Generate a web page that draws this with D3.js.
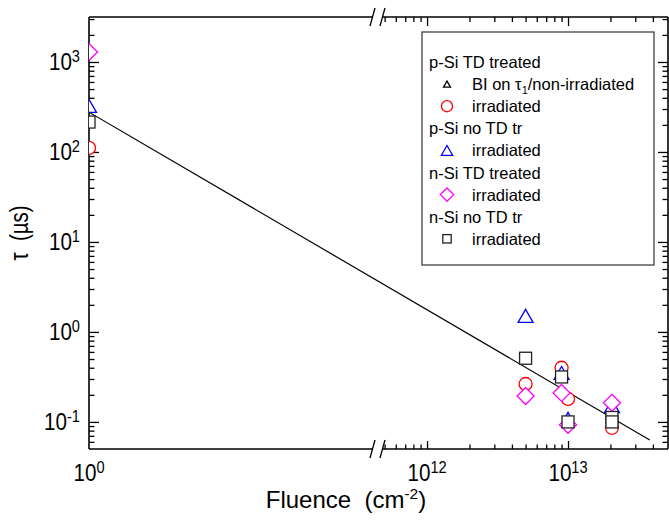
<!DOCTYPE html>
<html>
<head>
<meta charset="utf-8">
<script src="https://cdn.jsdelivr.net/npm/d3@7"></script>
<style>
  body { margin: 0; background: #fff; }
  text { font-family: "Liberation Sans", Arial, sans-serif; fill: #000; }
</style>
</head>
<body>
<svg id="chart" width="669" height="520"></svg>
<script>
// Daten: [Fluenz (cm^-2), tau (µs)], Fluenz 0 wird bei 10^0 gezeichnet
var pSiTdIrr   = [[1, 111], [5e12, 0.264], [9e12, 0.40], [1e13, 0.18], [2.05e13, 0.086]];
var pSiNoTdIrr = [[1, 325], [5e12, 1.51], [9e12, 0.35], [1e13, 0.108], [2.05e13, 0.15]];
var nSiTdIrr   = [[1, 1290], [5e12, 0.194], [9e12, 0.21], [1e13, 0.093], [2.05e13, 0.163]];
var nSiNoTdIrr = [[1, 215], [5e12, 0.51], [9e12, 0.316], [1e13, 0.10], [2.05e13, 0.112], [2.05e13, 0.10]];
var fitLine    = [[1, 277], [3.8e13, 0.063]];

var yTickExps = [-1, 0, 1, 2, 3];
var xTickExps = [0, 12, 13];

var legendRows = [
  { text: "p-Si TD treated" },
  { shape: "bi", color: "#000", text: "BI on τ", sub: "1", rest: "/non-irradiated" },
  { shape: "circle", color: "#ff0000", text: "irradiated" },
  { text: "p-Si no TD tr" },
  { shape: "triangle", color: "#0000ff", text: "irradiated" },
  { text: "n-Si TD treated" },
  { shape: "diamond", color: "#ff00ff", text: "irradiated" },
  { text: "n-Si no TD tr" },
  { shape: "square", color: "#222", text: "irradiated" }
];

var series = [
  { data: pSiTdIrr, shape: "circle", color: "#ff0000" },
  { data: pSiNoTdIrr, shape: "triangle", color: "#0000ff" },
  { data: nSiTdIrr, shape: "diamond", color: "#ff00ff" },
  { data: nSiNoTdIrr, shape: "square", color: "#222" }
];

// Geometrie (nicht "top" nennen, das ist window.top)
var plotL = 89, plotR = 668, plotT = 17, plotB = 449;
var breakL = 372.5, breakR = 382.5;

var svg = d3.select("#chart");

// unterbrochene x-Achse: zwei Teilskalen
var xLeft = d3.scaleLog().domain([1, 3]).range([plotL, breakL]);
var xRight = d3.scaleLog().domain([4.83e11, 5.12e13]).range([breakR, plotR]);
function x(v) { return v < 1e6 ? xLeft(v) : xRight(v); }
var y = d3.scaleLog().domain([0.05, 3162]).range([plotB, plotT]);

svg.append("defs").append("clipPath").attr("id", "plotClip")
  .append("rect").attr("x", plotL).attr("y", plotT)
  .attr("width", plotR - plotL).attr("height", plotB - plotT);

// Minor-Ticks
var yMinor = [];
for (var d = -2; d <= 3; d++) {
  for (var k = 2; k <= 9; k++) {
    var v = k * Math.pow(10, d);
    if (v > 0.0501 && v < 3162) yMinor.push(v);
  }
}
var xMinor = [];
for (var d2 = 11; d2 <= 13; d2++) {
  for (var k2 = 2; k2 <= 9; k2++) {
    var v2 = k2 * Math.pow(10, d2);
    if (v2 > 4.9e11 && xRight(v2) < 664) xMinor.push(v2);
  }
}
var yMajor = yTickExps.map(function(e) { return Math.pow(10, e); });

function ticks(axis, values, len, tx, ty) {
  var g = svg.append("g").attr("transform", "translate(" + tx + "," + ty + ")")
    .call(axis.tickValues(values).tickSize(len).tickFormat(""));
  g.select(".domain").remove();
  g.selectAll("line").attr("stroke", "#000").attr("stroke-width", 1.3);
}

// y-Achsen (links und rechts, Ticks nach innen)
ticks(d3.axisRight(y), yMajor, 10, plotL, 0);
ticks(d3.axisRight(y), yMinor, 5.5, plotL, 0);
ticks(d3.axisLeft(y), yMajor, 10, plotR, 0);
ticks(d3.axisLeft(y), yMinor, 5.5, plotR, 0);

// x-Achsen (unten und oben), nur rechter Teil hat Ticks
var xMajorR = [1e12, 1e13];
ticks(d3.axisTop(xRight), xMajorR, 8, 0, plotB);
ticks(d3.axisTop(xRight), xMinor, 4.5, 0, plotB);
ticks(d3.axisBottom(xRight), xMajorR, 9, 0, plotT);
ticks(d3.axisBottom(xRight), xMinor, 5, 0, plotT);

// Rahmen
var frame = svg.append("g").attr("stroke", "#000").attr("stroke-width", 1.6).attr("fill", "none");
frame.append("line").attr("x1", plotL).attr("x2", plotL).attr("y1", plotT).attr("y2", plotB);
frame.append("line").attr("x1", plotR).attr("x2", plotR).attr("y1", plotT).attr("y2", plotB);
[plotT, plotB].forEach(function(yy) {
  frame.append("line").attr("x1", plotL).attr("x2", breakL).attr("y1", yy).attr("y2", yy);
  frame.append("line").attr("x1", breakR).attr("x2", plotR).attr("y1", yy).attr("y2", yy);
  // Bruchzeichen //
  [breakL, breakR].forEach(function(bx) {
    frame.append("line").attr("x1", bx - 2.5).attr("y1", yy + 9)
      .attr("x2", bx + 2.5).attr("y2", yy - 9).attr("stroke-width", 1.3);
  });
});

// Beschriftung mit Hochzahl, leicht schmal gezogen wie im Original
function powLabel(tx, ty, exp, anchor) {
  var g = svg.append("g").attr("transform", "translate(" + tx + "," + ty + ") scale(0.86,1)");
  var t = g.append("text").attr("text-anchor", anchor).attr("font-size", 24);
  t.append("tspan").text("10");
  t.append("tspan").attr("dy", -8).attr("font-size", 17).text(exp);
}
yTickExps.forEach(function(e) { powLabel(80, y(Math.pow(10, e)) + 8.5, e, "end"); });
xTickExps.forEach(function(e) { powLabel(x(Math.pow(10, e)), 481, e, "middle"); });

// Achsentitel
var xt = svg.append("text").attr("x", 346).attr("y", 508)
  .attr("text-anchor", "middle").attr("font-size", 24).attr("xml:space", "preserve");
xt.append("tspan").text("Fluence  (cm");
xt.append("tspan").attr("dy", -9).attr("font-size", 15.5).text("-2");
xt.append("tspan").attr("dy", 9).text(")");

svg.append("g").attr("transform", "translate(28,233) rotate(-90) scale(0.82,1)")
  .append("text").attr("text-anchor", "middle").attr("font-size", 25)
  .attr("xml:space", "preserve").text("τ  (µs)");

// Marker
function marker(g, shape, color, cx, cy, s) {
  var m;
  if (shape === "circle") {
    m = g.append("circle").attr("cx", cx).attr("cy", cy).attr("r", 6.5 * s);
  } else if (shape === "square") {
    m = g.append("rect").attr("x", cx - 6 * s).attr("y", cy - 6 * s)
      .attr("width", 12 * s).attr("height", 12 * s);
  } else if (shape === "diamond") {
    var r = 8.5 * s;
    m = g.append("path").attr("d", "M" + cx + "," + (cy - r) + "L" + (cx + r) + "," + cy +
      "L" + cx + "," + (cy + r) + "L" + (cx - r) + "," + cy + "Z");
  } else {
    var w = (shape === "bi" ? 7 : 15) * s / 2, h = (shape === "bi" ? 6 : 13) * s / 2;
    m = g.append("path").attr("d", "M" + cx + "," + (cy - h) + "L" + (cx + w) + "," + (cy + h) +
      "L" + (cx - w) + "," + (cy + h) + "Z");
  }
  m.attr("fill", "#fff").attr("stroke", color).attr("stroke-width", 1.3);
}

var plot = svg.append("g").attr("clip-path", "url(#plotClip)");

// Anpassungsgerade
plot.append("path")
  .attr("d", d3.line().x(function(p) { return x(p[0]); }).y(function(p) { return y(p[1]); })(fitLine))
  .attr("fill", "none").attr("stroke", "#000").attr("stroke-width", 1.2);

series.forEach(function(s) {
  s.data.forEach(function(p) { marker(plot, s.shape, s.color, x(p[0]), y(p[1]), 1); });
});

// Legende
svg.append("rect").attr("x", 422).attr("y", 32).attr("width", 232).attr("height", 233)
  .attr("fill", "#fff").attr("stroke", "#333").attr("stroke-width", 1.2);

legendRows.forEach(function(row, i) {
  var base = 68 + 22.1 * i;
  if (!row.shape) {
    svg.append("text").attr("x", 429).attr("y", base).attr("font-size", 16.5).text(row.text);
    return;
  }
  var sc = { bi: 1, circle: 0.85, triangle: 0.75, diamond: 0.78, square: 0.7 }[row.shape];
  marker(svg, row.shape, row.color, 447, base - 6, sc);
  var t = svg.append("text").attr("x", 472).attr("y", base).attr("font-size", 16.5);
  t.append("tspan").text(row.text);
  if (row.sub) {
    t.append("tspan").attr("dy", 4).attr("font-size", 11).text(row.sub);
    t.append("tspan").attr("dy", -4).text(row.rest);
  }
});
</script>
</body>
</html>
